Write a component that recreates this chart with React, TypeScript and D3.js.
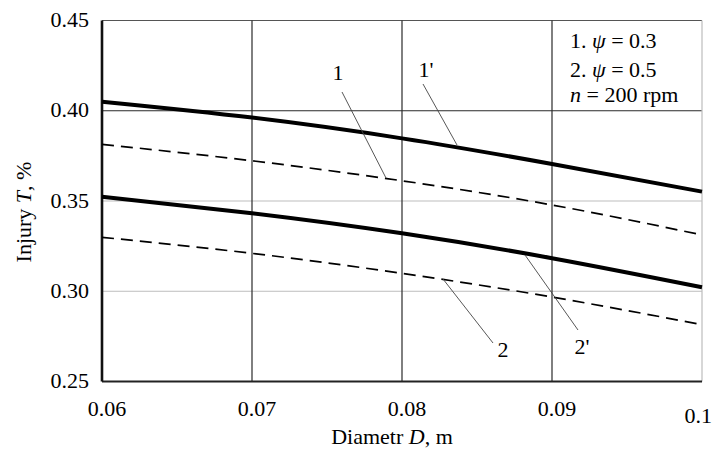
import React from "react";
import * as d3 from "d3";

const diameters = [0.06, 0.07, 0.08, 0.09, 0.1];
const curve1Prime = [0.405, 0.3962, 0.3847, 0.3705, 0.3552];
const curve1 = [0.3814, 0.3723, 0.3612, 0.3478, 0.3312];
const curve2Prime = [0.3524, 0.3432, 0.3321, 0.3183, 0.3022];
const curve2 = [0.3299, 0.321, 0.3099, 0.2968, 0.2815];

const xTickValues = [0.06, 0.07, 0.08, 0.09, 0.1];
const xTickLabels = ["0.06", "0.07", "0.08", "0.09", "0.1"];
const yTickValues = [0.25, 0.3, 0.35, 0.4, 0.45];
const yTickLabels = ["0.25", "0.30", "0.35", "0.40", "0.45"];

const FONT = "Liberation Serif, serif";
const T = { fontFamily: FONT };

export default function App() {
  const W = 713;
  const H = 452;
  const x = d3.scaleLinear().domain([0.06, 0.1]).range([102, 702]);
  const y = d3.scaleLinear().domain([0.25, 0.45]).range([381.5, 20.5]);

  const line = d3
    .line<[number, number]>()
    .x((d) => x(d[0]))
    .y((d) => y(d[1]))
    .curve(d3.curveNatural);

  const pts = (vals: number[]) => diameters.map((d, i) => [d, vals[i]] as [number, number]);

  const darkGrid = "#2a2a2a";
  const lightGrid = "#bdbdbd";

  return (
    <svg
      width={W}
      height={H}
      style={{ position: "absolute", left: 0, top: 0, background: "#fff", fontFamily: FONT }}
    >
      <rect x={0} y={0} width={W} height={H} fill="#fff" />
      {yTickValues.slice(1, 4).map((v) => (
        <line
          key={"h" + v}
          x1={x(0.06)}
          x2={x(0.1)}
          y1={y(v)}
          y2={y(v)}
          stroke={v === 0.4 ? darkGrid : lightGrid}
          strokeWidth={v === 0.4 ? 1.2 : 1}
        />
      ))}
      <line x1={x(0.06)} x2={x(0.1)} y1={y(0.45)} y2={y(0.45)} stroke="#555" strokeWidth={1.2} />
      <line x1={x(0.1)} x2={x(0.1)} y1={y(0.45)} y2={y(0.25)} stroke={lightGrid} strokeWidth={1.2} />
      {xTickValues.slice(1, 4).map((v) => (
        <line
          key={"v" + v}
          x1={x(v)}
          x2={x(v)}
          y1={y(0.45)}
          y2={y(0.25)}
          stroke={darkGrid}
          strokeWidth={1.2}
        />
      ))}
      <line x1={x(0.06)} x2={x(0.1)} y1={y(0.25)} y2={y(0.25)} stroke="#222" strokeWidth={1.8} />
      <line x1={x(0.06)} x2={x(0.06)} y1={y(0.45)} y2={y(0.25)} stroke="#111" strokeWidth={2.6} />

      <path d={line(pts(curve1Prime)) || ""} fill="none" stroke="#000" strokeWidth={4} />
      <path d={line(pts(curve2Prime)) || ""} fill="none" stroke="#000" strokeWidth={4} />
      <path d={line(pts(curve1)) || ""} fill="none" stroke="#000" strokeWidth={1.7} strokeDasharray="12 7" />
      <path d={line(pts(curve2)) || ""} fill="none" stroke="#000" strokeWidth={1.7} strokeDasharray="12 7" />

      <g stroke="#444" strokeWidth={0.9}>
        <line x1={342} y1={92} x2={386} y2={178} />
        <line x1={423} y1={84} x2={457} y2={145} />
        <line x1={443} y1={279} x2={493} y2={343} />
        <line x1={525} y1={255} x2={578} y2={330} />
      </g>
      <g fontSize={22} fill="#000">
        <text style={T} x={338} y={80} textAnchor="middle">1</text>
        <text style={T} x={426} y={77} textAnchor="middle">1'</text>
        <text style={T} x={503} y={357} textAnchor="middle">2</text>
        <text style={T} x={582} y={354} textAnchor="middle">2'</text>
      </g>

      <g fontSize={22} fill="#000">
        <text style={T} x={570} y={48}>
          1. <tspan fontStyle="italic">ψ</tspan> = 0.3
        </text>
        <text style={T} x={570} y={77}>
          2. <tspan fontStyle="italic">ψ</tspan> = 0.5
        </text>
        <text style={T} x={570} y={102}>
          <tspan fontStyle="italic">n</tspan> = 200 rpm
        </text>
      </g>

      <g fontSize={22} fill="#000">
        {yTickValues.map((v, i) => (
          <text style={T} key={"yt" + v} x={89} y={y(v) + 6.5} textAnchor="end">
            {yTickLabels[i]}
          </text>
        ))}
      </g>
      <g fontSize={22} fill="#000">
        {xTickValues.map((v, i) => (
          <text
            style={T}
            key={"xt" + v}
            x={i === 4 ? 712 : x(v) + 5}
            y={i === 4 ? 423 : 416}
            textAnchor={i === 4 ? "end" : "middle"}
          >
            {xTickLabels[i]}
          </text>
        ))}
      </g>

      <text style={T} x={392} y={444} fontSize={22} textAnchor="middle" fill="#000">
        Diametr <tspan fontStyle="italic">D</tspan>, m
      </text>
      <text
        style={T}
        transform="translate(31,212) rotate(-90)"
        fontSize={22}
        textAnchor="middle"
        fill="#000"
      >
        Injury <tspan fontStyle="italic">T</tspan>, %
      </text>
    </svg>
  );
}
